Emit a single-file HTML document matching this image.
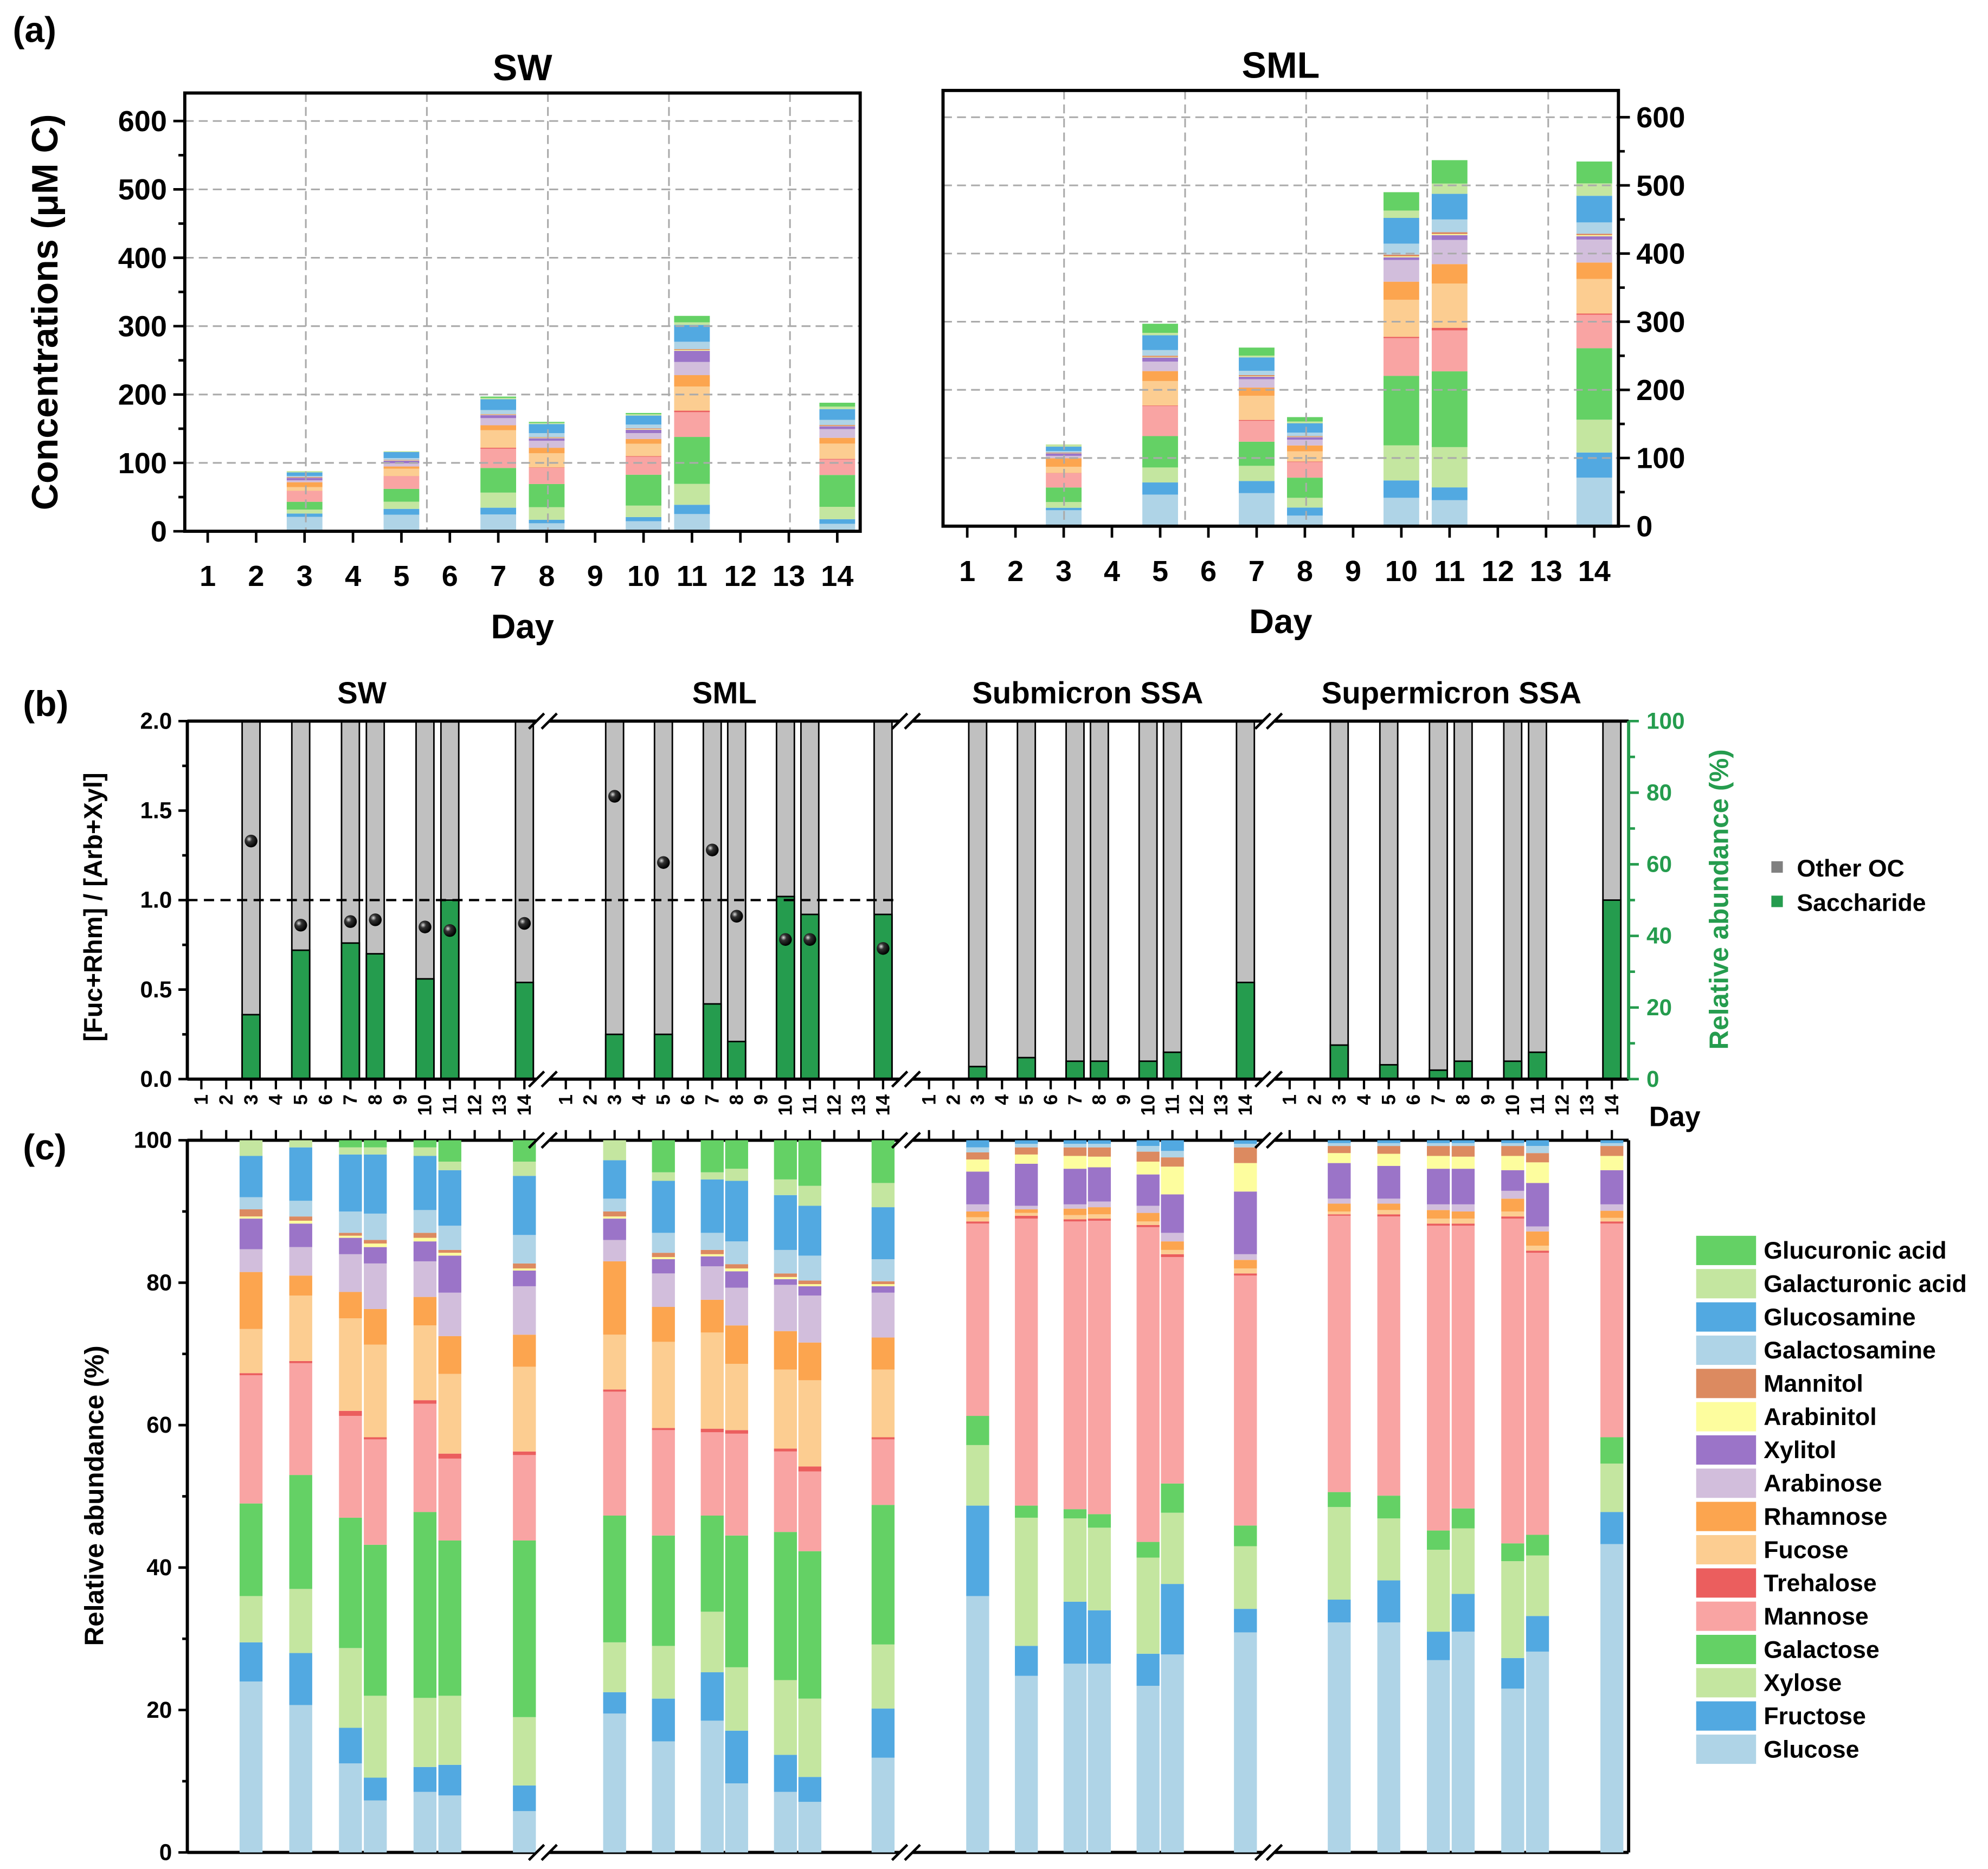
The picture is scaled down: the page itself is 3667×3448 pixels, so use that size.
<!DOCTYPE html>
<html><head><meta charset="utf-8"><style>
html,body{margin:0;padding:0;background:#fff}
svg{display:block}
text{font-family:"Liberation Sans",Arial,sans-serif;font-weight:bold}
</style></head><body>
<svg id="chart" xmlns="http://www.w3.org/2000/svg" width="3667" height="3448" viewBox="0 0 1560 1467" preserveAspectRatio="none">
<rect x="0" y="0" width="1560" height="1467" fill="#fff"/>
</svg>
<script>
const seriesNames=["Glucose","Fructose","Xylose","Galactose","Mannose","Trehalose","Fucose","Rhamnose","Arabinose","Xylitol","Arabinitol","Mannitol","Galactosamine","Glucosamine","Galacturonic acid","Glucuronic acid"];
const seriesColors=["#afd4e7","#52a9e1","#c4e6a0","#64d165","#f9a4a3","#eb5e5e","#fccd91","#fca54f","#d2bedc","#9b74c8","#fdfd9e","#dc8a60","#afd4e7","#52a9e1","#c4e6a0","#64d165"];
const days=[3,5,7,8,10,11,14];
const allDays=[1,2,3,4,5,6,7,8,9,10,11,12,13,14];
const swTotals=[88,117,197,160,173,315,188];
const smlTotals=[120,297,262,160,490,537,535];
const swTops=[
[24,29.5,36,49,67,67.3,73.5,81.5,84.7,89,89.3,90.3,92,97.8,100,100],
[20.7,28,37,53,68.7,69,78.2,81,85,88.3,88.7,89.3,91.5,99,100,100],
[12.5,17.5,28.7,47,61.3,62,75,78.7,84,86.3,86.6,87,90,98,99,100],
[7.3,10.5,22,43.2,58,58.3,71.3,76.3,82.7,85,85.5,86,89.7,98,99,100],
[8.5,12,21.7,47.8,63,63.5,74,78,83,85.8,86.3,87,90.2,97.8,99,100],
[8,12.3,22,43.8,55.3,56,67.2,72.5,78.6,83.8,84.2,84.6,88,95.8,97,100],
[5.8,9.4,19,43.8,55.8,56.3,68.2,72.7,79.5,81.7,82,82.7,86.7,95,97,100]];
const smlTops=[
[19.5,22.5,29.5,47.3,64.7,65,72.7,83,86,89,89.3,90,91.8,97.2,100,100],
[15.6,21.6,29,44.5,59.3,59.6,71.7,76.6,81.3,83.3,83.6,84.2,87,94.3,95.5,100],
[18.5,25.3,33.8,47.3,59,59.5,73,77.6,82.3,83.7,84,84.6,87,94.5,95.5,100],
[9.7,17.1,26,44.5,58.8,59.3,68.6,74,79.3,81.6,82,82.6,85.8,94.3,96,100],
[8.5,13.7,24.2,45,56.3,56.7,67.8,73.2,79.7,80.5,80.8,81.3,84.6,92.3,94.5,100],
[7.1,10.6,21.6,42.3,53.5,54.2,66.3,71.6,78.2,79.5,79.8,80.3,83.8,90.8,93.6,100],
[13.3,20.2,29.2,48.8,58,58.3,67.8,72.3,78.6,79.5,79.8,80.2,83.3,90.6,94,100]];
const subTops=[
[36,48.7,57.2,61.3,88.3,88.6,89.2,90,91,95.6,97.3,98.3,99,100,100,100],
[24.8,29,47,48.7,89,89.4,89.8,90.3,90.8,96.7,98,99,99.5,100,100,100],
[26.5,35.2,46.9,48.2,88.6,88.9,89.5,90.4,91,96,97.8,99,99.5,100,100,100],
[26.5,34,45.6,47.5,88.7,89,89.6,90.6,91.4,96.2,97.7,99,99.5,100,100,100],
[23.4,27.9,41.4,43.6,87.8,88.1,88.6,89.8,90.8,95.2,97,98.4,99.2,100,100,100],
[27.8,37.7,47.7,51.8,83.6,84,84.6,85.8,87,92.4,96.3,97.6,98.5,100,100,100],
[30.9,34.2,43,45.9,81,81.3,82,83.2,84,92.8,96.8,99,99.5,100,100,100]];
const supTops=[
[32.3,35.5,48.5,50.6,89.4,89.6,90,91.1,91.8,96.8,98.2,99.2,99.6,100,100,100],
[32.3,38.2,46.9,50.1,89.3,89.6,90.2,91.1,91.8,96.4,98.1,99.2,99.6,100,100,100],
[27,31,42.5,45.2,88,88.3,89,90.2,91,96,97.8,99.2,99.6,100,100,100],
[31,36.3,45.5,48.3,88,88.3,89,90,91,96,97.7,99.2,99.6,100,100,100],
[23,27.3,40.9,43.4,89,89.3,90,91.8,92.9,95.8,97.8,99.2,99.6,100,100,100],
[28.2,33.2,41.7,44.6,84.2,84.5,85.2,87.2,87.9,94,96.9,98.2,99.2,100,100,100],
[43.3,47.8,54.6,58.3,88.3,88.6,89.1,90.1,91,95.8,97.8,99.2,99.6,100,100,100]];
const saccharideSW=[18,36,38,35,28,50,27];
const saccharideSML=[12.5,12.5,21,10.5,51,46,46];
const saccharideSub=[3.5,6,5,5,5,7.5,27];
const saccharideSup=[9.5,4,2.5,5,5,7.5,50];
const ratioSW=[1.33,0.86,0.88,0.89,0.85,0.83,0.87];
const ratioSML=[1.58,1.21,1.28,0.91,0.78,0.78,0.73];
const concTicks=[0,100,200,300,400,500,600];
const ratioTicks=["0.0","0.5","1.0","1.5","2.0"];
const pctTicks=[0,20,40,60,80,100];

const svg=document.getElementById('chart');
const NS="http://www.w3.org/2000/svg";
function el(tag,attrs,parent){const e=document.createElementNS(NS,tag);for(const k in attrs)e.setAttribute(k,attrs[k]);(parent||svg).appendChild(e);return e;}
function txt(s,x,y,size,attrs){const t=el('text',Object.assign({x:x,y:y,'font-size':size},attrs||{}));t.textContent=s;return t;}
function line(x1,y1,x2,y2,w,extra){return el('line',Object.assign({x1:x1,y1:y1,x2:x2,y2:y2,stroke:'#000','stroke-width':w||2},extra||{}));}

// ---------- Panel (a) ----------
function panelA(cfg){
  const g=el('g',{});
  
  
  const xs=d=>cfg.x0+(d-1)*cfg.dx;
  const ys=v=>cfg.yb-v*cfg.k;
  for(let i=1;i<=6;i++){const l=line(cfg.L,ys(i*100),cfg.R,ys(i*100),1.3,{stroke:'#aaa','stroke-dasharray':'7,4'});}
  for(let i=1;i<=5;i++){const X=cfg.L+(cfg.R-cfg.L)*i/5.58;const l=line(X,cfg.T,X,cfg.yb,1.3,{stroke:'#aaa','stroke-dasharray':'7,4'});}
  days.forEach((d,i)=>{
    let prev=0;
    cfg.tops[i].forEach((t,s)=>{
      const v0=cfg.totals[i]*prev/100,v1=cfg.totals[i]*t/100;
      if(t>prev){const r=el('rect',{x:xs(d)-14,y:ys(v1),width:28,height:ys(v0)-ys(v1),fill:seriesColors[s]},g);
      
      }
      prev=t;
    });
  });
  const fr=el('rect',{x:cfg.L,y:cfg.T,width:cfg.R-cfg.L,height:cfg.yb-cfg.T,fill:'none',stroke:'#000','stroke-width':2.5});
  
  const ax=cfg.right?cfg.R:cfg.L, dir=cfg.right?1:-1;
  concTicks.forEach(v=>{line(ax,ys(v),ax+dir*9,ys(v),2);const t=txt(v,ax+dir*14,ys(v)+8,23,{'text-anchor':cfg.right?'start':'end'});});
  for(let v=50;v<650;v+=100){line(ax,ys(v),ax+dir*5,ys(v),2);}
  allDays.forEach(d=>{line(xs(d),cfg.yb,xs(d),cfg.yb+9,2);const t=txt(d,xs(d),cfg.yb+43,23,{'text-anchor':'middle'});});
  const ti=txt(cfg.title,(cfg.L+cfg.R)/2,cfg.T-10,29,{'text-anchor':'middle'});
  const xl=txt('Day',(cfg.L+cfg.R)/2,cfg.yb+84,27,{'text-anchor':'middle'});
}
panelA({name:'panel-a-sw',tag:'sw',title:'SW',L:145,R:675,T:73,yb:417,k:0.5367,x0:163,dx:38,totals:swTotals,tops:swTops,right:false});
panelA({name:'panel-a-sml',tag:'sml',title:'SML',L:740,R:1270,T:71,yb:413,k:0.535,x0:759,dx:37.85,totals:smlTotals,tops:smlTops,right:true});
let t=txt('Concentrations (μM C)',0,0,29,{transform:'translate(45,245) rotate(-90)','text-anchor':'middle'});

t=txt('(a)',10,33,28,{});

// ---------- Panels (b) and (c) ----------
const subX0=[158,444,729,1012], subDx=[19.5,19.15,19.1,19.45];
const subL=[147,431,716,1000], subR=[421,706,991,1278];
const subTitles=['SW','SML','Submicron SSA','Supermicron SSA'];
const subTags=['sw','sml','submicron','supermicron'];
const sacc=[saccharideSW,saccharideSML,saccharideSub,saccharideSup];
const topsC=[swTops,smlTops,subTops,supTops];
const ratios=[ratioSW,ratioSML,null,null];
const bT=566,bB=847,cT=895,cB=1454;
const yL=r=>bB-r*140.5, yR=p=>bB-p*2.81, yc=p=>cB-p*5.59;
const defs=el('defs',{});
const rg=el('radialGradient',{id:'ball',cx:'35%',cy:'35%',r:'65%'},defs);
el('stop',{offset:'0','stop-color':'#ddd'},rg);el('stop',{offset:'0.35','stop-color':'#333'},rg);el('stop',{offset:'1','stop-color':'#000'},rg);

for(let p=0;p<4;p++){
  const xs=d=>subX0[p]+(d-1)*subDx[p];
  const gb=el('g',{});
  
  
  days.forEach((d,i)=>{
    const r1=el('rect',{x:xs(d)-7,y:bT,width:14,height:bB-bT,fill:'#c0c0c0',stroke:'#000','stroke-width':1.2},gb);
    
    
    const r2=el('rect',{x:xs(d)-7,y:yR(sacc[p][i]),width:14,height:bB-yR(sacc[p][i]),fill:'#259c4e',stroke:'#000','stroke-width':1.2},gb);
    
    
  });
  if(ratios[p]){
    days.forEach((d,i)=>{const c=el('circle',{cx:xs(d),cy:yL(ratios[p][i]),r:5,fill:'url(#ball)'},gb);
      
      });
  }
  line(subL[p],bT,subR[p],bT,2.5);line(subL[p],bB,subR[p],bB,2.5);
  line(subL[p],cT,subR[p],cT,2.5);line(subL[p],cB,subR[p],cB,2.5);
  allDays.forEach(d=>{
    line(xs(d),bB,xs(d),bB+8,1.8);line(xs(d),cT,xs(d),cT-8,1.8);
    const tl=txt(d,0,0,15,{transform:'translate('+(xs(d)+5)+','+(bB+12)+') rotate(-90)','text-anchor':'end'});
    
  });
  const gc=el('g',{});
  
  
  days.forEach((d,i)=>{
    let prev=0;
    topsC[p][i].forEach((tp,s)=>{
      if(tp>prev){const r=el('rect',{x:xs(d)-9,y:yc(tp),width:18,height:yc(prev)-yc(tp),fill:seriesColors[s]},gc);
      
      }
      prev=tp;
    });
  });
  const st=txt(subTitles[p],(subL[p]+subR[p])/2,552,24,{'text-anchor':'middle'});
  
  if(p<3){[bT,bB,cT,cB].forEach(y=>{line(subR[p]-6,y+6,subR[p]+6,y-6,2);line(subL[p+1]-6,y+6,subL[p+1]+6,y-6,2);});}
}
line(147,bT,147,bB,2.5);line(147,cT,147,cB,2.5);
line(1278,bT,1278,bB,2.5,{stroke:'#259c4e'});line(1278,cT,1278,cB,2.5);
ratioTicks.forEach((s,i)=>{const y=yL(i*0.5);line(147,y,140,y,2);const tl=txt(s,135,y+6,18,{'text-anchor':'end'});
 if(i<4)line(147,yL(i*0.5+0.25),143,yL(i*0.5+0.25),2);});
for(let v=0;v<=100;v+=20){const y=yR(v);line(1278,y,1286,y,2,{stroke:'#259c4e'});const tl=txt(v,1292,y+6,18,{fill:'#259c4e'});
 if(v<100)line(1278,yR(v+10),1283,yR(v+10),2,{stroke:'#259c4e'});}
pctTicks.forEach(v=>{const y=yc(v);line(147,y,140,y,2);const tl=txt(v,135,y+6,18,{'text-anchor':'end'});
 if(v<100)line(147,yc(v+10),143,yc(v+10),2);});
const dash=line(147,yL(1),706,yL(1),1.8,{'stroke-dasharray':'8,5'});

t=txt('[Fuc+Rhm] / [Arb+Xyl]',0,0,20,{transform:'translate(80,712) rotate(-90)','text-anchor':'middle'});

t=txt('Relative abundance (%)',0,0,21,{transform:'translate(1356,706) rotate(-90)','text-anchor':'middle',fill:'#259c4e'});

t=txt('Relative abundance (%)',0,0,21,{transform:'translate(81,1174) rotate(-90)','text-anchor':'middle'});

t=txt('Day',1294,884,22,{});
t=txt('(b)',18,562,28,{});
t=txt('(c)',18,910,28,{});
let r=el('rect',{x:1390,y:676,width:9,height:9,fill:'#808080'});
t=txt('Other OC',1410,688,19,{});
r=el('rect',{x:1390,y:703,width:9,height:9,fill:'#259c4e'});
t=txt('Saccharide',1410,715,19,{});
for(let i=0;i<16;i++){
  const s=15-i, y=970+i*26.1;
  const sw=el('rect',{x:1331,y:y,width:47,height:23,fill:seriesColors[s]});
  
  
  const lt=txt(seriesNames[s],1384,y+18,19,{});
  
  
}
</script>
</body></html>
